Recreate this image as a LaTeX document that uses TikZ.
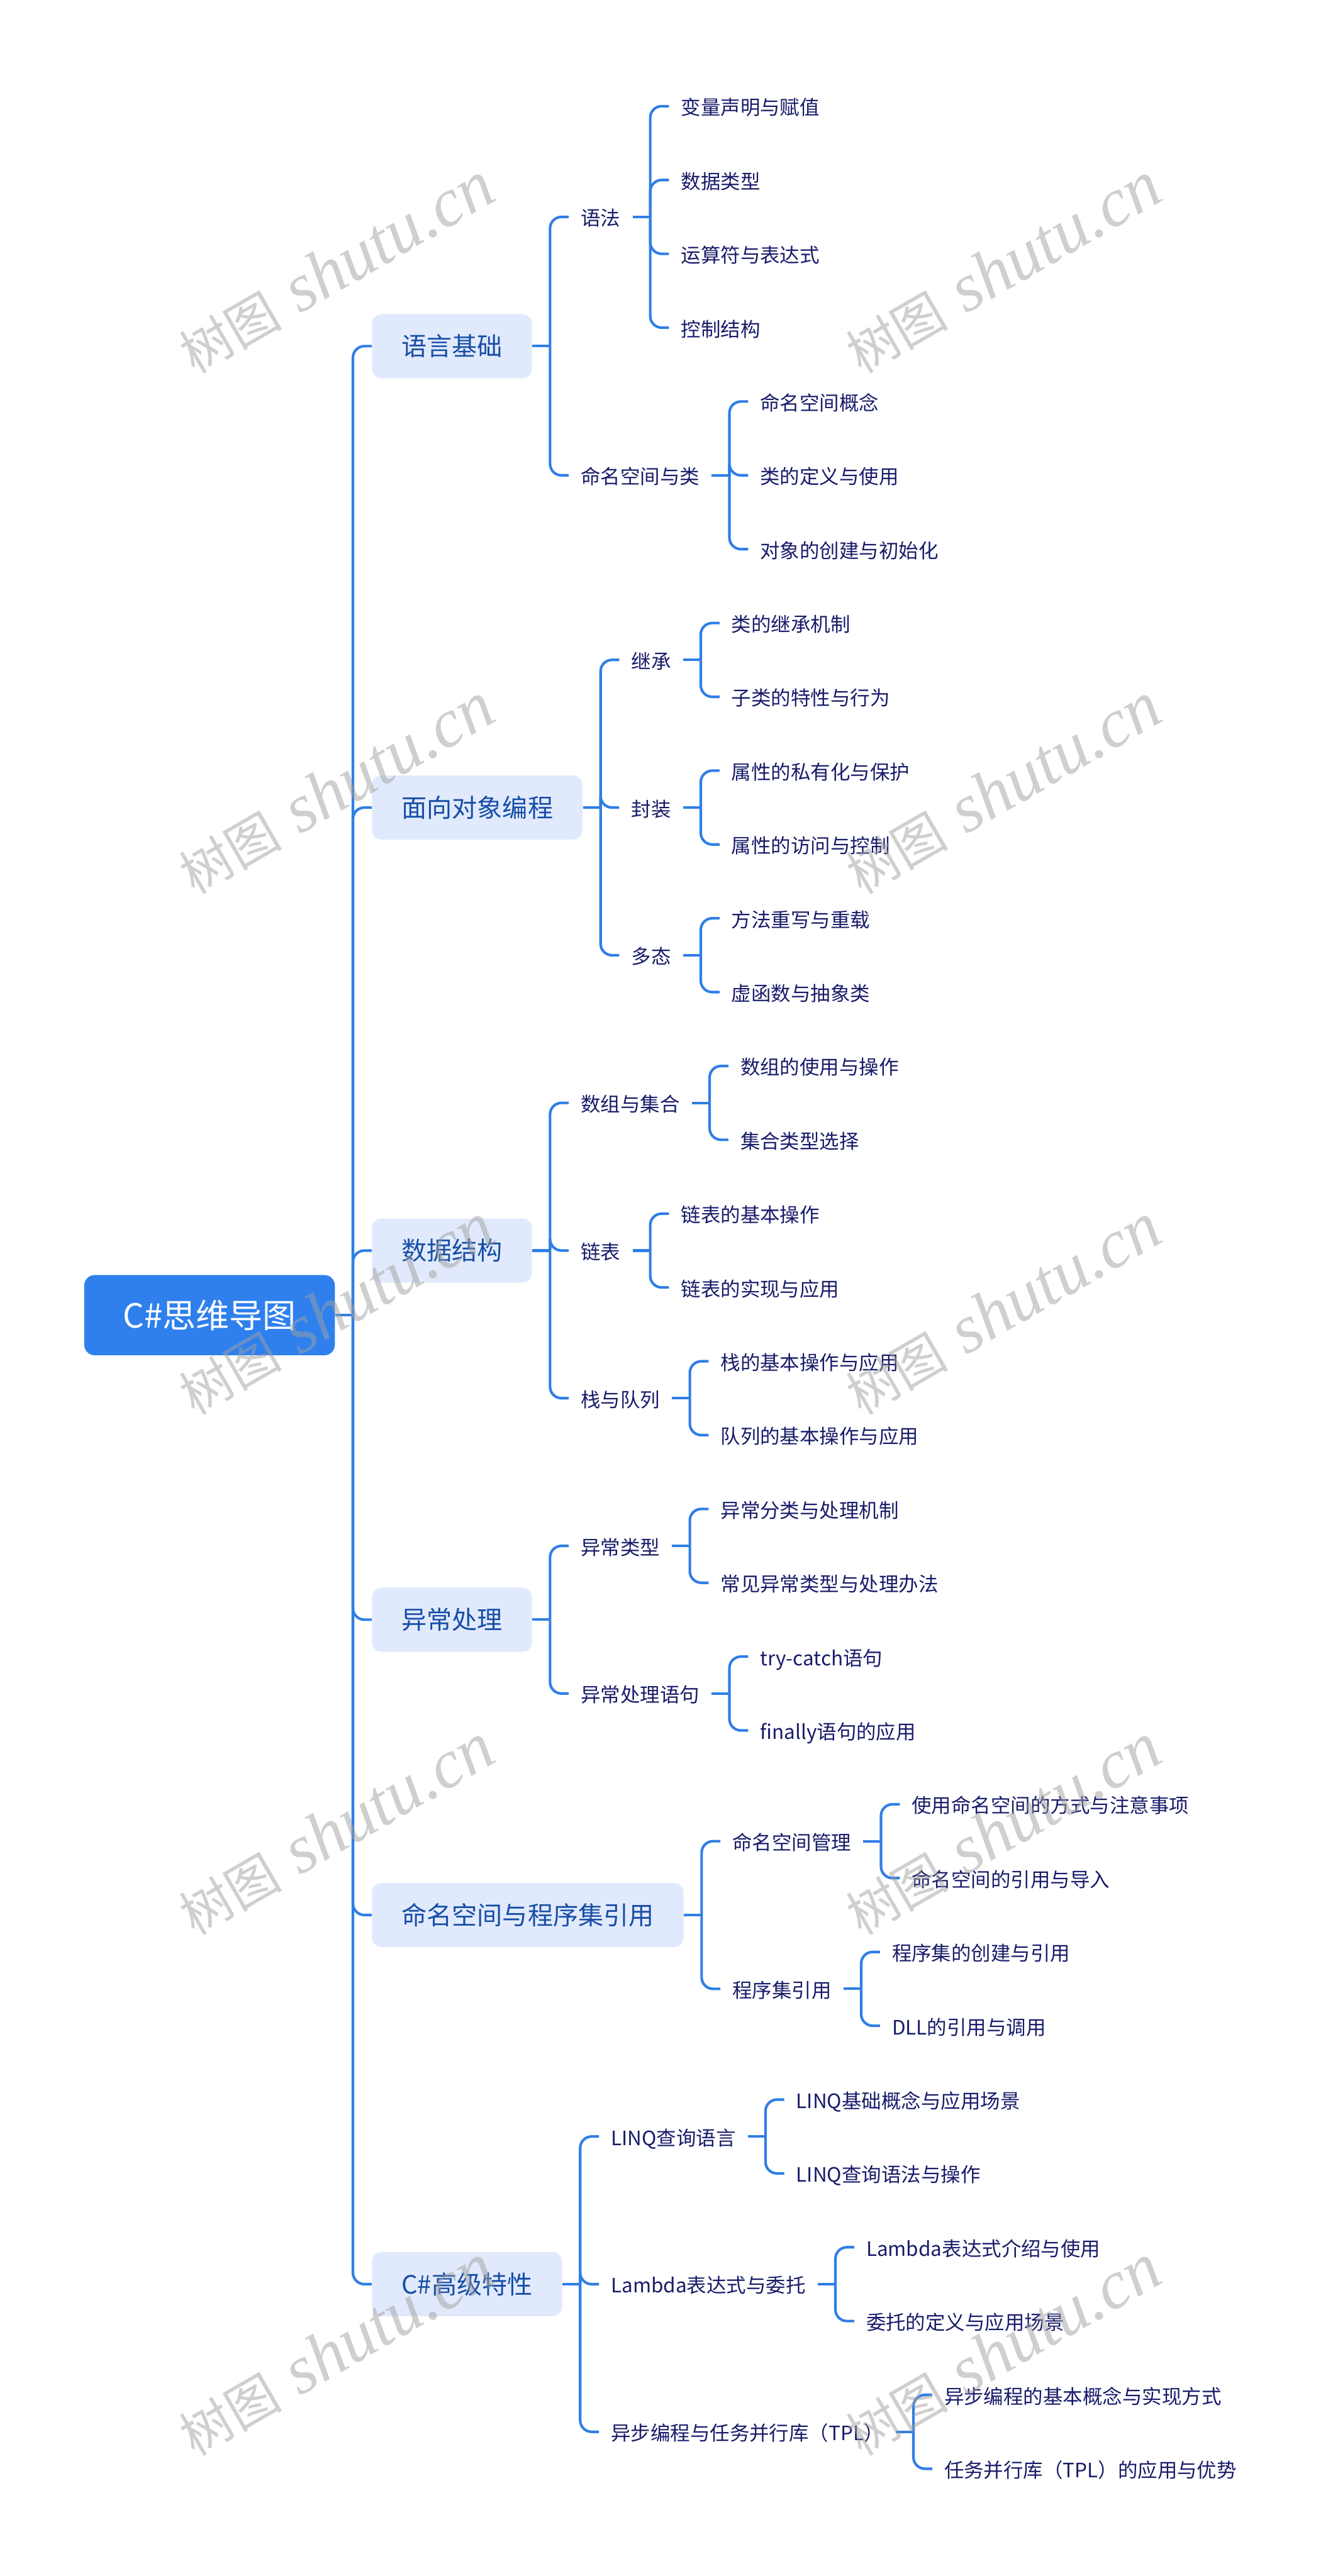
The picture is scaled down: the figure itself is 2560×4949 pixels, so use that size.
\documentclass[tikz,border=0pt]{standalone}
\usepackage{fontspec}
\setmainfont{Noto Sans CJK SC}
\newfontfamily\wmcjk{Noto Sans CJK SC}
\newfontfamily\wmlat{Liberation Serif}
\definecolor{rootblue}{RGB}{47,128,237}
\definecolor{topicfill}{RGB}{225,234,252}
\definecolor{topictext}{RGB}{23,78,166}
\definecolor{leaftext}{RGB}{24,28,105}
\definecolor{lineblue}{RGB}{47,126,230}
\definecolor{wmgray}{RGB}{160,160,160}
\tikzset{
  conn/.style={draw=lineblue, line width=1.42pt, rounded corners=0.22cm},
  rootbox/.style={fill=rootblue, text=white, rounded corners=0.2cm,
    minimum width=4.81cm, minimum height=1.54cm, inner sep=0pt,
    font=\fontsize{18.21pt}{21pt}\selectfont, text height=13.84pt, text depth=0pt},
  topic/.style={fill=topicfill, text=topictext, rounded corners=0.18cm,
    inner xsep=0.565cm, inner ysep=0pt, minimum height=1.23cm,
    font=\fontsize{13.8pt}{16pt}\selectfont, text height=10.49pt, text depth=0pt},
  sub/.style={text=leaftext, inner xsep=0.225cm, inner ysep=0pt,
    font=\fontsize{10.81pt}{13pt}\selectfont, text height=10.27pt, text depth=0.65pt},
  wm/.style={rotate=30, text=wmgray, text opacity=0.5, inner sep=0pt}
}
\newcommand{\mmkid}[5]{%
  \path (#3.east) ++(70,0) coordinate (k#2) (#3.east) ++(34,0) coordinate (j#2);
  \node[#1, anchor=west] (#2) at (k#2 |- 0,#4) {#5};
  \draw[conn] (#3.east) -- (j#2);
  \draw[conn] (j#2) |- (#2.west);
}
\newcommand{\wmark}[2]{%
  \node[wm] at (#1,#2) {{\wmcjk\fontsize{28pt}{31pt}\selectfont 树图}\hspace{10pt}{\wmlat\itshape\fontsize{37.5pt}{42pt}\selectfont shutu.cn}};
}
\begin{document}
\begin{tikzpicture}[x=0.01cm, y=-0.01cm]
\fill[white] (0,0) rectangle (2560,4949);
\useasboundingbox (0,0) rectangle (2560,4949);

\node[rootbox] (r) at (402.5,2526.63) {C\#思维导图};

\mmkid{topic}{a}{r}{664.98}{语言基础}
\mmkid{topic}{b}{r}{1551.48}{面向对象编程}
\mmkid{topic}{c}{r}{2402.52}{数据结构}
\mmkid{topic}{d}{r}{3111.72}{异常处理}
\mmkid{topic}{e}{r}{3679.08}{命名空间与程序集引用}
\mmkid{topic}{f}{r}{4388.28}{C\#高级特性}

\mmkid{sub}{aa}{a}{416.76}{语法}
\mmkid{sub}{ab}{a}{913.2}{命名空间与类}
\mmkid{sub}{aaa}{aa}{204}{变量声明与赋值}
\mmkid{sub}{aab}{aa}{345.84}{数据类型}
\mmkid{sub}{aac}{aa}{487.68}{运算符与表达式}
\mmkid{sub}{aad}{aa}{629.52}{控制结构}
\mmkid{sub}{aba}{ab}{771.36}{命名空间概念}
\mmkid{sub}{abb}{ab}{913.2}{类的定义与使用}
\mmkid{sub}{abc}{ab}{1055.04}{对象的创建与初始化}

\mmkid{sub}{ba}{b}{1267.8}{继承}
\mmkid{sub}{bb}{b}{1551.48}{封装}
\mmkid{sub}{bc}{b}{1835.16}{多态}
\mmkid{sub}{baa}{ba}{1196.88}{类的继承机制}
\mmkid{sub}{bab}{ba}{1338.72}{子类的特性与行为}
\mmkid{sub}{bba}{bb}{1480.56}{属性的私有化与保护}
\mmkid{sub}{bbb}{bb}{1622.4}{属性的访问与控制}
\mmkid{sub}{bca}{bc}{1764.24}{方法重写与重载}
\mmkid{sub}{bcb}{bc}{1906.08}{虚函数与抽象类}

\mmkid{sub}{ca}{c}{2118.84}{数组与集合}
\mmkid{sub}{cb}{c}{2402.52}{链表}
\mmkid{sub}{cc}{c}{2686.2}{栈与队列}
\mmkid{sub}{caa}{ca}{2047.92}{数组的使用与操作}
\mmkid{sub}{cab}{ca}{2189.76}{集合类型选择}
\mmkid{sub}{cba}{cb}{2331.6}{链表的基本操作}
\mmkid{sub}{cbb}{cb}{2473.44}{链表的实现与应用}
\mmkid{sub}{cca}{cc}{2615.28}{栈的基本操作与应用}
\mmkid{sub}{ccb}{cc}{2757.12}{队列的基本操作与应用}

\mmkid{sub}{da}{d}{2969.88}{异常类型}
\mmkid{sub}{db}{d}{3253.56}{异常处理语句}
\mmkid{sub}{daa}{da}{2898.96}{异常分类与处理机制}
\mmkid{sub}{dab}{da}{3040.8}{常见异常类型与处理办法}
\mmkid{sub}{dba}{db}{3182.64}{try-catch语句}
\mmkid{sub}{dbb}{db}{3324.48}{finally语句的应用}

\mmkid{sub}{ea}{e}{3537.24}{命名空间管理}
\mmkid{sub}{eb}{e}{3820.92}{程序集引用}
\mmkid{sub}{eaa}{ea}{3466.32}{使用命名空间的方式与注意事项}
\mmkid{sub}{eab}{ea}{3608.16}{命名空间的引用与导入}
\mmkid{sub}{eba}{eb}{3750}{程序集的创建与引用}
\mmkid{sub}{ebb}{eb}{3891.84}{DLL的引用与调用}

\mmkid{sub}{fa}{f}{4104.6}{LINQ查询语言}
\mmkid{sub}{fb}{f}{4388.28}{Lambda表达式与委托}
\mmkid{sub}{fc}{f}{4671.96}{异步编程与任务并行库（TPL）}
\mmkid{sub}{faa}{fa}{4033.68}{LINQ基础概念与应用场景}
\mmkid{sub}{fab}{fa}{4175.52}{LINQ查询语法与操作}
\mmkid{sub}{fba}{fb}{4317.36}{Lambda表达式介绍与使用}
\mmkid{sub}{fbb}{fb}{4459.2}{委托的定义与应用场景}
\mmkid{sub}{fca}{fc}{4601.04}{异步编程的基本概念与实现方式}
\mmkid{sub}{fcb}{fc}{4742.88}{任务并行库（TPL）的应用与优势}

\wmark{646}{515}
\wmark{1926}{515}
\wmark{646}{1515}
\wmark{1926}{1515}
\wmark{646}{2515}
\wmark{1926}{2515}
\wmark{646}{3515}
\wmark{1926}{3515}
\wmark{646}{4515}
\wmark{1926}{4515}
\end{tikzpicture}
\end{document}
